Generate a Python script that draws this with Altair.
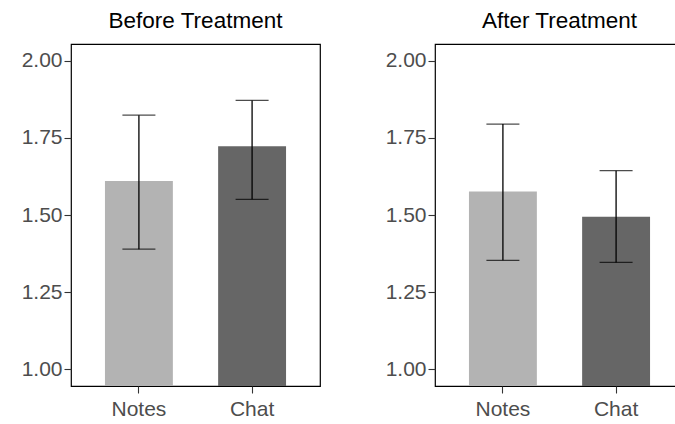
import altair as alt
import pandas as pd

cats = ["Notes", "Chat"]
colors = ["#B3B3B3", "#666666"]

before_mean = [1.610, 1.723]
before_lo = [1.389, 1.551]
before_hi = [1.824, 1.872]

after_mean = [1.576, 1.494]
after_lo = [1.353, 1.346]
after_hi = [1.795, 1.644]

y_ticks = [1.00, 1.25, 1.50, 1.75, 2.00]
y_domain = [0.945, 2.055]

FONT = "Liberation Sans"


def panel(means, los, his, title):
    df = pd.DataFrame({"cat": cats, "mean": means, "lo": los, "hi": his})
    xenc = alt.X(
        "cat:N",
        sort=cats,
        scale=alt.Scale(paddingInner=0.4, paddingOuter=0.3),
        axis=alt.Axis(title=None, labelAngle=0, domain=False, labelPadding=5),
    )
    yscale = alt.Scale(domain=y_domain, nice=False, zero=False)
    base = alt.Chart(df).encode(x=xenc)
    bars = base.mark_bar(clip=True).encode(
        y=alt.Y(
            "mean:Q",
            scale=yscale,
            axis=alt.Axis(title=None, values=y_ticks, format=".2f", domain=False,
                          grid=False, labelPadding=2),
        ),
        color=alt.Color("cat:N", scale=alt.Scale(domain=cats, range=colors), legend=None),
    )
    rule = base.mark_rule(color="black", strokeWidth=1.3).encode(
        y=alt.Y("lo:Q", scale=yscale), y2="hi:Q"
    )
    cap_lo = base.mark_tick(color="black", thickness=1.3, size=33).encode(
        y=alt.Y("lo:Q", scale=yscale)
    )
    cap_hi = base.mark_tick(color="black", thickness=1.3, size=33).encode(
        y=alt.Y("hi:Q", scale=yscale)
    )
    return alt.layer(bars, rule, cap_lo, cap_hi).properties(
        width=249,
        height=342,
        title=alt.TitleParams(title, anchor="middle", fontSize=22.5, fontWeight="normal",
                              font=FONT, color="black", offset=12),
    )


left = panel(before_mean, before_lo, before_hi, "Before Treatment")
right = panel(after_mean, after_lo, after_hi, "After Treatment")

chart = (
    alt.hconcat(left, right, spacing=63)
    .properties(padding={"left": 20, "top": 8, "right": -10, "bottom": 0}, background="white")
    .configure_view(stroke="black", strokeWidth=1.2)
    .configure_axis(
        labelFont=FONT,
        labelFontSize=21,
        labelColor="#4D4D4D",
        tickColor="#333333",
        tickSize=7,
        tickWidth=1.1,
    )
)

chart.save("out.html", embed_options={"renderer": "svg", "actions": False})
